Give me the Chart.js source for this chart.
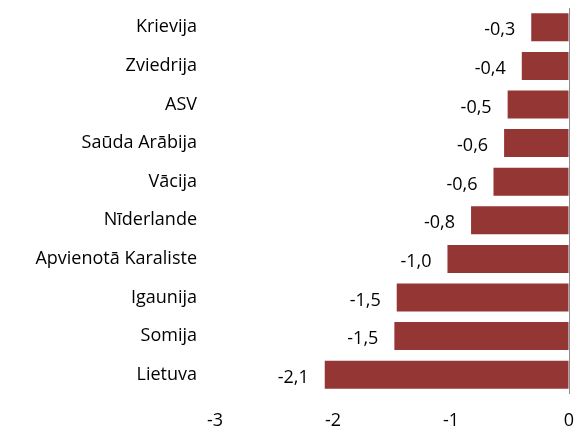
<!DOCTYPE html>
<html>
<head>
<meta charset="utf-8">
<script src="https://cdn.jsdelivr.net/npm/chart.js@4/dist/chart.umd.min.js"></script>
<style>
  html, body { margin: 0; padding: 0; background: #fff; }
  #wrap { width: 580px; height: 432px; }
</style>
</head>
<body>
<div id="wrap"><canvas id="chart"></canvas></div>
<script>
var countries = ['Krievija', 'Zviedrija', 'ASV', 'Saūda Arābija', 'Vācija', 'Nīderlande',
  'Apvienotā Karaliste', 'Igaunija', 'Somija', 'Lietuva'];
var values = [-0.32, -0.40, -0.52, -0.55, -0.64, -0.83, -1.03, -1.46, -1.48, -2.07];
var xTicks = [-3, -2, -1, 0];

var barColor = '#943634';
var fontFamily = '"Open Sans", Lato, sans-serif';
var fontSize = 18;

// draw value labels to the left of each bar
var valueLabels = {
  id: 'valueLabels',
  afterDatasetsDraw: function (chart) {
    var ctx = chart.ctx;
    var meta = chart.getDatasetMeta(0);
    ctx.save();
    ctx.font = fontSize + 'px ' + fontFamily;
    ctx.fillStyle = '#000';
    ctx.textAlign = 'right';
    ctx.textBaseline = 'middle';
    meta.data.forEach(function (bar, i) {
      var txt = values[i].toFixed(1).replace('.', ',');
      ctx.fillText(txt, bar.x - 16, bar.y + 3);
    });
    ctx.restore();
  }
};

var chart = new Chart(document.getElementById('chart').getContext('2d'), {
  type: 'bar',
  data: {
    labels: countries,
    datasets: [{
      data: values,
      backgroundColor: barColor,
      barPercentage: 0.8,
      categoryPercentage: 0.906
    }]
  },
  options: {
    indexAxis: 'y',
    responsive: true,
    maintainAspectRatio: false,
    animation: false,
    layout: { padding: { top: 8, right: 11, bottom: 0, left: 0 } },
    plugins: {
      legend: { display: false },
      tooltip: { enabled: false }
    },
    scales: {
      x: {
        min: -3,
        max: 0,
        afterBuildTicks: function (scale) {
          scale.ticks = xTicks.map(function (v) { return { value: v }; });
        },
        afterFit: function (scale) {
          scale.height = 38;
          scale.paddingLeft = 0;
          scale.paddingRight = 0;
        },
        border: { display: false },
        grid: {
          drawTicks: false,
          color: function (c) { return c.tick && c.tick.value === 0 ? '#8c8c8c' : 'rgba(0,0,0,0)'; },
          lineWidth: 1
        },
        ticks: {
          padding: 16,
          color: '#000',
          font: { family: fontFamily, size: fontSize },
          callback: function (v) { return String(v); }
        }
      },
      y: {
        afterFit: function (scale) {
          scale.width = 215;
          scale.paddingTop = 0;
          scale.paddingBottom = 0;
        },
        border: { display: false },
        grid: { display: false, drawTicks: false },
        ticks: {
          padding: 18,
          color: '#000',
          font: { family: fontFamily, size: fontSize }
        }
      }
    }
  },
  plugins: [valueLabels]
});
</script>
</body>
</html>
